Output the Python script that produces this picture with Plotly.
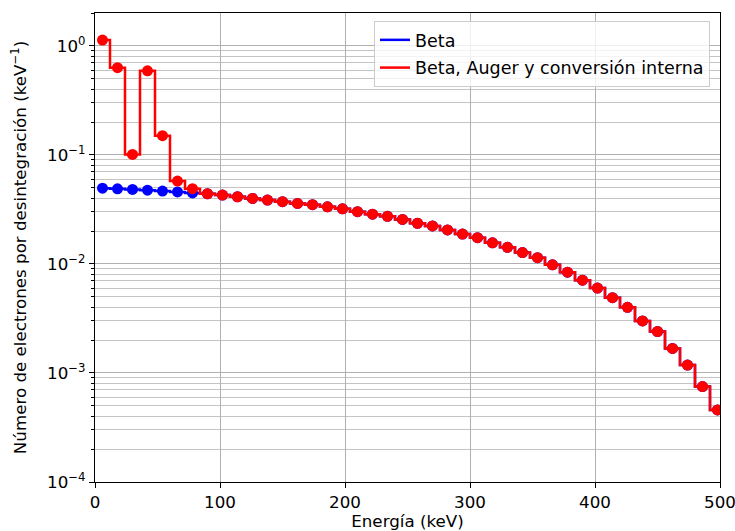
import plotly.graph_objects as go

energia = [6, 18, 30, 42, 54, 66, 78, 90, 102, 114, 126, 138, 150, 162, 174, 186,
           198, 210, 222, 234, 246, 258, 270, 282, 294, 306, 318, 330, 342, 354,
           366, 378, 390, 402, 414, 426, 438, 450, 462, 474, 486, 498]

total = [1.13, 0.63, 0.101, 0.59, 0.150, 0.0575, 0.049, 0.0440, 0.0428, 0.0413,
         0.0399, 0.0385, 0.0372, 0.0359, 0.0349, 0.0334, 0.0320, 0.0301, 0.0286,
         0.0273, 0.0256, 0.0236, 0.0223, 0.0205, 0.0188, 0.0174, 0.0156, 0.0142,
         0.0127, 0.0114, 0.0098, 0.0084, 0.0071, 0.0060, 0.0049, 0.0040, 0.0030,
         0.0024, 0.00168, 0.00118, 0.00075, 0.000458]

beta = [0.0495, 0.0488, 0.0482, 0.0474, 0.0466, 0.0457, 0.0448, 0.0440, 0.0428, 0.0413,
        0.0399, 0.0385, 0.0372, 0.0359, 0.0349, 0.0334, 0.0320, 0.0301, 0.0286,
        0.0273, 0.0256, 0.0236, 0.0223, 0.0205, 0.0188, 0.0174, 0.0156, 0.0142,
        0.0127, 0.0114, 0.0098, 0.0084, 0.0071, 0.0060, 0.0049, 0.0040, 0.0030,
        0.0024, 0.00168, 0.00118, 0.00075, 0.000458]

y_major = [1e-4, 1e-3, 1e-2, 1e-1, 1e0]
y_major_text = ["10<sup>−4</sup>", "10<sup>−3</sup>", "10<sup>−2</sup>", "10<sup>−1</sup>", "10<sup>0</sup>"]
x_ticks = [0, 100, 200, 300, 400, 500]

y_minor = [m * d for d in [1e-4, 1e-3, 1e-2, 1e-1, 1e0] for m in range(2, 10) if m * d <= 2.0]

BLUE = "#0000ff"
RED = "#ff0000"
FONT = "DejaVu Sans"
FS = 16.7
GRID = "#b0b0b0"

fig = go.Figure()
fig.add_trace(go.Scatter(x=energia, y=beta, mode="lines", line=dict(color=BLUE, width=2.5, shape="hvh"),
                         name="Beta", legendgroup="a"))
fig.add_trace(go.Scatter(x=energia, y=beta, mode="markers", marker=dict(color=BLUE, size=11),
                         showlegend=False, legendgroup="a"))
fig.add_trace(go.Scatter(x=energia, y=total, mode="lines", line=dict(color=RED, width=2.5, shape="hvh"),
                         name="Beta, Auger y conversión interna", legendgroup="b"))
fig.add_trace(go.Scatter(x=energia, y=total, mode="markers", marker=dict(color=RED, size=11),
                         showlegend=False, legendgroup="b"))

fig.update_layout(
    width=735, height=531,
    margin=dict(l=95, r=15, t=13, b=49),
    paper_bgcolor="white", plot_bgcolor="white",
    font=dict(family=FONT, size=FS, color="black"),
    legend=dict(x=0.984, y=0.983, xanchor="right", yanchor="top",
                traceorder="grouped", tracegroupgap=2,
                bgcolor="rgba(255,255,255,0.8)", bordercolor="#cccccc", borderwidth=1,
                font=dict(family=FONT, size=17.5)),
)
fig.update_xaxes(
    range=[0, 500], tickvals=x_ticks, ticks="outside", ticklen=5, tickwidth=1.3, tickcolor="black",
    showline=True, linecolor="black", linewidth=1.3, mirror=True,
    showgrid=True, gridcolor=GRID, gridwidth=1.3, zeroline=False, automargin=False,
    ticklabeloverflow="allow",
    tickfont=dict(size=FS),
    title=dict(text="Energía (keV)", font=dict(size=FS), standoff=4),
)
fig.update_yaxes(
    type="log", range=[-4, 0.301], tickvals=y_major, ticktext=y_major_text,
    ticks="outside", ticklen=5, tickwidth=1.3, tickcolor="black",
    showline=True, linecolor="black", linewidth=1.3, mirror=True,
    showgrid=True, gridcolor=GRID, gridwidth=1.3, zeroline=False, automargin=False,
    ticklabeloverflow="allow",
    minor=dict(tickvals=y_minor, ticks="outside", ticklen=3, tickwidth=1, tickcolor="black",
               showgrid=True, gridcolor="#c4c4c4", gridwidth=1.2),
    tickfont=dict(size=FS),
    title=dict(text="Número de electrones por desintegración (keV<sup>−1</sup>)", font=dict(size=FS), standoff=16),
)

fig.write_html("out.html")
